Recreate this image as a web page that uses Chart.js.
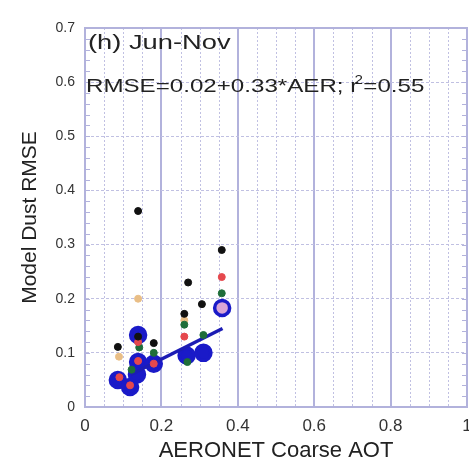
<!DOCTYPE html>
<html>
<head>
    <title>Model Dust RMSE vs AERONET Coarse AOT</title>
    <script src="https://cdn.jsdelivr.net/npm/chart.js@4.4.0/dist/chart.umd.min.js"></script>
    <style>
        html, body {
            margin: 0;
            padding: 0;
            background: white;
            overflow: hidden;
        }
        canvas {
            display: block;
        }
    </style>
</head>
<body>
    <canvas id="rmseChart" width="469" height="462"></canvas>

    <script>
        // Points (x = AERONET coarse AOT, y = model dust RMSE)
        const blackX = [0.086, 0.139, 0.18, 0.26, 0.27, 0.306, 0.358, 0.139];
        const blackY = [0.111, 0.362, 0.118, 0.172, 0.23, 0.19, 0.29, 0.13];

        const redX = [0.09, 0.118, 0.139, 0.18, 0.139, 0.26, 0.358];
        const redY = [0.055, 0.04, 0.12, 0.08, 0.085, 0.13, 0.24];

        const greenX = [0.122, 0.142, 0.18, 0.26, 0.31, 0.358, 0.268];
        const greenY = [0.069, 0.11, 0.10, 0.152, 0.133, 0.21, 0.083];

        const tanX = [0.089, 0.139, 0.26];
        const tanY = [0.093, 0.20, 0.16];

        const blueX = [0.086, 0.118, 0.136, 0.139, 0.139, 0.18, 0.266, 0.31, 0.359];
        const blueY = [0.05, 0.037, 0.06, 0.083, 0.133, 0.08, 0.095, 0.10, 0.183];

        // regression line end points
        const fitX = [0.12, 0.36];
        const fitY = [0.06, 0.145];

        const xTicks = [0, 0.2, 0.4, 0.6, 0.8, 1];
        const yTicks = [0, 0.1, 0.2, 0.3, 0.4, 0.5, 0.6, 0.7];

        const frameColor = '#b2b2dc';
        const dotGrid = '#c0c0e2';

        function toPoints(xs, ys) {
            return xs.map((x, i) => ({x: x, y: ys[i]}));
        }

        // frame, minor dotted verticals, small edge ticks, and the text inside the plot
        const extrasPlugin = {
            id: 'extras',
            beforeDatasetsDraw(chart) {
                const {ctx, chartArea: a, scales} = chart;
                ctx.save();
                ctx.strokeStyle = dotGrid;
                ctx.lineWidth = 1;
                ctx.setLineDash([2, 2]);
                for (let i = 1; i < 20; i++) {
                    if (i % 4 === 0) continue;
                    const px = Math.round(scales.x.getPixelForValue(i * 0.05)) + 0.5;
                    ctx.beginPath();
                    ctx.moveTo(px, a.top);
                    ctx.lineTo(px, a.bottom);
                    ctx.stroke();
                }
                ctx.setLineDash([]);
                ctx.strokeStyle = frameColor;
                for (let i = 1; i < 35; i++) {
                    const py = Math.round(scales.y.getPixelForValue(i * 0.02)) + 0.5;
                    ctx.beginPath();
                    ctx.moveTo(a.left, py);
                    ctx.lineTo(a.left + 5, py);
                    ctx.moveTo(a.right, py);
                    ctx.lineTo(a.right - 5, py);
                    ctx.stroke();
                }
                ctx.lineWidth = 2;
                ctx.strokeRect(a.left, a.top, a.right - a.left, a.bottom - a.top);
                ctx.restore();
            },
            afterDraw(chart) {
                const {ctx, chartArea: a} = chart;
                ctx.save();
                ctx.fillStyle = '#222';
                ctx.textBaseline = 'alphabetic';

                ctx.save();
                ctx.translate(a.left + 3, 49);
                ctx.scale(1.3, 1);
                ctx.font = '21px "Liberation Sans", Arial, sans-serif';
                ctx.fillText('(h) Jun-Nov', 0, 0);
                ctx.restore();

                ctx.save();
                ctx.translate(a.left + 1, 92);
                ctx.scale(1.27, 1);
                ctx.font = '19px "Liberation Sans", Arial, sans-serif';
                let s = 'RMSE=0.02+0.33*AER; r';
                ctx.fillText(s, 0, 0);
                let w = ctx.measureText(s).width;
                ctx.font = '12px "Liberation Sans", Arial, sans-serif';
                ctx.fillText('2', w - 3, -8);
                ctx.font = '19px "Liberation Sans", Arial, sans-serif';
                ctx.fillText('=0.55', w + 4, 0);
                ctx.restore();

                ctx.restore();
            }
        };

        new Chart(document.getElementById('rmseChart'), {
            type: 'scatter',
            data: {
                datasets: [
                    {
                        label: 'black',
                        data: toPoints(blackX, blackY),
                        backgroundColor: '#111111',
                        borderColor: '#111111',
                        pointRadius: 3.5,
                        order: 1
                    },
                    {
                        label: 'red',
                        data: toPoints(redX, redY),
                        backgroundColor: '#e5484d',
                        borderColor: '#e5484d',
                        pointRadius: 3.5,
                        order: 1
                    },
                    {
                        label: 'green',
                        data: toPoints(greenX, greenY),
                        backgroundColor: '#1f6e3a',
                        borderColor: '#1f6e3a',
                        pointRadius: 3.5,
                        order: 1
                    },
                    {
                        label: 'tan',
                        data: toPoints(tanX, tanY),
                        backgroundColor: '#e9be86',
                        borderColor: '#e9be86',
                        pointRadius: 3.5,
                        order: 1
                    },
                    {
                        label: 'fit',
                        data: toPoints(fitX, fitY),
                        showLine: true,
                        borderColor: '#1c1cb4',
                        borderWidth: 3.5,
                        pointRadius: 0,
                        order: 2
                    },
                    {
                        label: 'blue',
                        data: toPoints(blueX, blueY),
                        pointBackgroundColor: ['#1a1ac8', '#1a1ac8', '#1a1ac8', '#1a1ac8', '#1a1ac8',
                                               '#1a1ac8', '#1a1ac8', '#1a1ac8', '#d9a6d6'],
                        pointBorderColor: '#1a1ac8',
                        pointBorderWidth: 3.5,
                        pointRadius: 7.5,
                        order: 3
                    }
                ]
            },
            options: {
                responsive: false,
                animation: false,
                events: [],
                layout: {
                    autoPadding: false,
                    padding: {left: 0, top: 28, right: 2, bottom: 0}
                },
                plugins: {
                    legend: {display: false},
                    tooltip: {enabled: false}
                },
                scales: {
                    x: {
                        type: 'linear',
                        min: 0,
                        max: 1,
                        afterFit: (scale) => {
                            scale.height = 55;
                            scale.paddingLeft = 0;
                            scale.paddingRight = 0;
                        },
                        afterBuildTicks: (scale) => { scale.ticks = xTicks.map(v => ({value: v})); },
                        grid: {
                            color: frameColor,
                            lineWidth: 2,
                            drawTicks: false
                        },
                        border: {color: frameColor, width: 2},
                        ticks: {
                            padding: 9,
                            color: '#333',
                            font: {family: '"Liberation Sans", Arial, sans-serif', size: 17},
                            callback: (v) => String(Math.round(v * 10) / 10)
                        },
                        title: {
                            display: true,
                            text: 'AERONET Coarse AOT',
                            color: '#222',
                            padding: {top: 0, bottom: 0},
                            font: {family: '"Liberation Sans", Arial, sans-serif', size: 22, lineHeight: 1}
                        }
                    },
                    y: {
                        type: 'linear',
                        min: 0,
                        max: 0.7,
                        afterFit: (scale) => {
                            scale.width = 85;
                            scale.paddingTop = 0;
                            scale.paddingBottom = 0;
                        },
                        afterBuildTicks: (scale) => { scale.ticks = yTicks.map(v => ({value: v})); },
                        grid: {
                            color: dotGrid,
                            lineWidth: 1,
                            drawTicks: false
                        },
                        border: {color: frameColor, width: 2, dash: [3, 2]},
                        ticks: {
                            padding: 10,
                            color: '#333',
                            font: {family: '"Liberation Sans", Arial, sans-serif', size: 14},
                            callback: (v) => String(Math.round(v * 10) / 10)
                        },
                        title: {
                            display: true,
                            text: 'Model Dust RMSE',
                            color: '#222',
                            padding: {top: 20, bottom: 0},
                            font: {family: '"Liberation Sans", Arial, sans-serif', size: 21, lineHeight: 1}
                        }
                    }
                }
            },
            plugins: [extrasPlugin]
        });
    </script>
</body>
</html>
